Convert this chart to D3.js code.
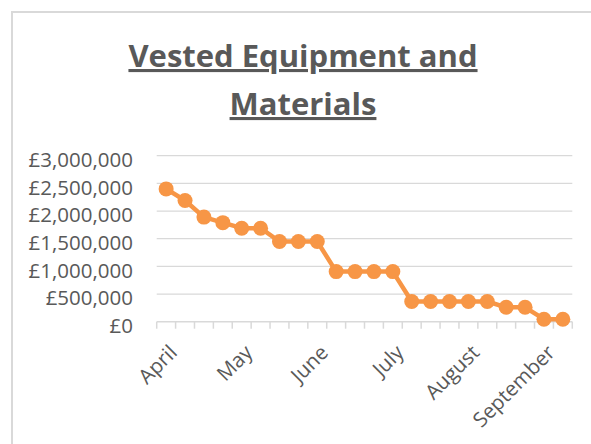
<!DOCTYPE html>
<html>
<head>
<meta charset="utf-8">
<script src="https://cdnjs.cloudflare.com/ajax/libs/d3/7.8.5/d3.min.js"></script>
<style>
    body { margin: 0; background: #fff; }
    svg { display: block; }
    .tickLabel, .yLabel { font-family: 'Open Sans', sans-serif; font-size: 20.5px; fill: #595959; }
    .title { font-family: 'Open Sans', sans-serif; font-weight: bold; font-size: 31px; fill: #595959; }
</style>
</head>
<body>
<div id="chart"></div>
<script>
// Weekly points, April to September
const weeks = ['W1', 'W2', 'W3', 'W4', 'W5', 'W6', 'W7', 'W8', 'W9', 'W10', 'W11',
    'W12', 'W13', 'W14', 'W15', 'W16', 'W17', 'W18', 'W19', 'W20', 'W21', 'W22'];
const vested = [2400000, 2190000, 1890000, 1790000, 1690000, 1690000, 1450000, 1450000,
    1450000, 905000, 905000, 905000, 905000, 365000, 365000, 365000, 365000, 365000,
    260000, 260000, 45000, 45000];
const monthLabels = ['April', 'May', 'June', 'July', 'August', 'September'];
const monthWeeks = ['W1', 'W5', 'W9', 'W13', 'W17', 'W21'];
const yTicks = [0, 500000, 1000000, 1500000, 2000000, 2500000, 3000000];

let width = 591,
    height = 444,
    plot = { left: 156.7, right: 572.3, top: 155.7, bottom: 321.7 },
    grey = '#d9d9d9',
    orange = '#F79646'

let svg = d3.select('#chart')
    .append('svg')
    .attr('width', width)
    .attr('height', height);

// Chart area border (runs off the right and bottom of the picture)
svg.append('rect')
    .attr('x', 12)
    .attr('y', 12)
    .attr('width', width)
    .attr('height', height)
    .attr('fill', 'none')
    .attr('stroke', grey)
    .attr('stroke-width', 2);

// Title
let title = svg.append('text')
    .attr('class', 'title')
    .attr('text-anchor', 'middle')
    .style('text-decoration', 'underline');
title.append('tspan').attr('x', 303).attr('y', 67).text('Vested Equipment and');
title.append('tspan').attr('x', 303).attr('y', 115).text('Materials');

let xScale = d3.scaleBand()
    .domain(weeks)
    .range([plot.left, plot.right]);

let yScale = d3.scaleLinear()
    .domain([0, 3000000])
    .range([plot.bottom, plot.top]);

const fmt = d => '£' + d3.format(',')(d);

// Gridlines
svg.append('g')
    .selectAll('line')
    .data(yTicks.filter(d => d > 0))
    .join('line')
    .attr('x1', plot.left)
    .attr('x2', plot.right)
    .attr('y1', d => yScale(d))
    .attr('y2', d => yScale(d))
    .attr('stroke', grey)
    .attr('stroke-width', 1.3);

// Y labels
svg.append('g')
    .selectAll('text')
    .data(yTicks)
    .join('text')
    .attr('class', 'yLabel')
    .attr('x', 133)
    .attr('y', d => yScale(d) + 4)
    .attr('dy', '0.35em')
    .attr('text-anchor', 'end')
    .text(fmt);

// X axis line and ticks between categories
svg.append('line')
    .attr('x1', plot.left)
    .attr('x2', plot.right)
    .attr('y1', plot.bottom)
    .attr('y2', plot.bottom)
    .attr('stroke', grey)
    .attr('stroke-width', 1.5);

let edges = weeks.map(w => xScale(w)).concat([plot.right]);
svg.append('g')
    .selectAll('line')
    .data(edges)
    .join('line')
    .attr('x1', d => d)
    .attr('x2', d => d)
    .attr('y1', plot.bottom)
    .attr('y2', plot.bottom + 7)
    .attr('stroke', grey)
    .attr('stroke-width', 1.5);

// Month labels at an angle
svg.append('g')
    .selectAll('text')
    .data(monthLabels)
    .join('text')
    .attr('class', 'tickLabel')
    .attr('text-anchor', 'end')
    .attr('transform', (d, i) => 'translate(' + (xScale(monthWeeks[i]) + xScale.bandwidth() / 2 + 2) + ',' + (plot.bottom + 22) + ') rotate(-45)')
    .attr('dy', '0.7em')
    .text(d => d);

const X = (d, i) => xScale(weeks[i]) + xScale.bandwidth() / 2;
const Y = d => yScale(d);

// Line
svg.append('path')
    .datum(vested)
    .attr('fill', 'none')
    .attr('stroke', orange)
    .attr('stroke-width', 4.5)
    .attr('stroke-linejoin', 'round')
    .attr('d', d3.line().x(X).y(Y));

// Points
svg.append('g')
    .selectAll('circle')
    .data(vested)
    .join('circle')
    .attr('cx', X)
    .attr('cy', Y)
    .attr('r', 7.5)
    .attr('fill', orange);
</script>
</body>
</html>
